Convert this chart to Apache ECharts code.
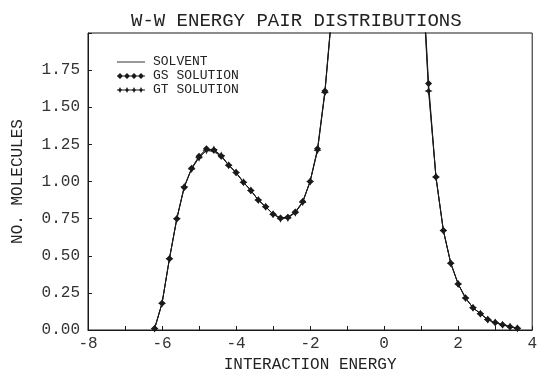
<!DOCTYPE html>
<html>
<head>
<meta charset="utf-8">
<script src="https://cdn.jsdelivr.net/npm/echarts@6/dist/echarts.min.js"></script>
<style>
  html, body { margin: 0; padding: 0; background: #fff; }
  #chart { width: 540px; height: 378px; }
</style>
</head>
<body>
<div id="chart"></div>
<script>
// Interaction energy bins (kcal/mol), one every 0.2
const energy = [
  -6.2, -6.0, -5.8, -5.6, -5.4, -5.2, -5.0, -4.8, -4.6, -4.4,
  -4.2, -4.0, -3.8, -3.6, -3.4, -3.2, -3.0, -2.8, -2.6, -2.4,
  -2.2, -2.0, -1.8, -1.6, -1.4, -1.2, -1.0, -0.8, -0.6, -0.4,
  -0.2, 0.0, 0.2, 0.4, 0.6, 0.8, 1.0, 1.2, 1.4, 1.6,
  1.8, 2.0, 2.2, 2.4, 2.6, 2.8, 3.0, 3.2, 3.4, 3.6
];

// Number of molecules per bin
const solvent = [
  0.01, 0.18, 0.48, 0.75, 0.965, 1.09, 1.165, 1.21, 1.20, 1.17,
  1.11, 1.06, 0.995, 0.94, 0.875, 0.83, 0.78, 0.755, 0.76, 0.79,
  0.86, 1.00, 1.21, 1.60, 2.17, 2.80, 3.30, 3.60, 3.70, 3.60,
  3.50, 3.40, 3.30, 3.15, 3.00, 2.80, 2.55, 1.63, 1.03, 0.67,
  0.45, 0.31, 0.215, 0.15, 0.11, 0.07, 0.05, 0.035, 0.022, 0.011
];
const gsSolution = [
  0.01, 0.18, 0.48, 0.75, 0.96, 1.09, 1.17, 1.22, 1.21, 1.17,
  1.11, 1.06, 0.995, 0.94, 0.875, 0.83, 0.78, 0.755, 0.76, 0.795,
  0.865, 1.00, 1.22, 1.61, 2.18, 2.80, 3.30, 3.60, 3.70, 3.60,
  3.50, 3.40, 3.30, 3.15, 3.00, 2.80, 2.58, 1.66, 1.03, 0.67,
  0.45, 0.31, 0.215, 0.15, 0.11, 0.07, 0.05, 0.035, 0.022, 0.011
];
const gtSolution = [
  0.01, 0.18, 0.48, 0.75, 0.965, 1.085, 1.16, 1.21, 1.215, 1.175,
  1.11, 1.06, 0.995, 0.94, 0.875, 0.83, 0.78, 0.75, 0.755, 0.79,
  0.86, 1.00, 1.21, 1.60, 2.16, 2.80, 3.30, 3.60, 3.70, 3.60,
  3.50, 3.40, 3.30, 3.15, 3.00, 2.80, 2.52, 1.61, 1.03, 0.67,
  0.45, 0.31, 0.215, 0.15, 0.11, 0.07, 0.05, 0.035, 0.022, 0.011
];

const seriesNames = ['SOLVENT', 'GS SOLUTION', 'GT SOLUTION'];
const xTickLabels = ['-8', '-6', '-4', '-2', '0', '2', '4'];
const yTickLabels = ['0.00', '0.25', '0.50', '0.75', '1.00', '1.25', '1.50', '1.75'];

const pairs = (ys) => energy.map((x, i) => [x, ys[i]]);

const FONT = '"Liberation Mono", "DejaVu Sans Mono", monospace';
const INK = '#1a1a1a';
// Chunky four-point star used as the GT marker
const starPath = 'path://M5,0 L6.6,3.4 L10,5 L6.6,6.6 L5,10 L3.4,6.6 L0,5 L3.4,3.4 Z';

// Legend keys: a plain stroke, and a stroke carrying four markers
const centers = [3, 10, 17, 24];
const keyLine = 'M0,2.6 L28,2.6 L28,3.4 L0,3.4 Z';
const diamondKey = 'path://' + keyLine + centers.map(c =>
  ` M${c - 3},3 L${c},0 L${c + 3},3 L${c},6 Z`).join('');
const starKey = 'path://' + keyLine + centers.map(c =>
  ` M${c},0 L${c + 1},2 L${c + 3},3 L${c + 1},4 L${c},6 L${c - 1},4 L${c - 3},3 L${c - 1},2 Z`).join('');
const plainKey = 'path://M0,0 L28,0 L28,1 L0,1 Z';

const chart = echarts.init(document.getElementById('chart'), null, { renderer: 'canvas' });

chart.setOption({
  animation: false,
  backgroundColor: '#fff',
  title: {
    text: 'W-W ENERGY PAIR DISTRIBUTIONS',
    left: 126,
    top: 6,
    textStyle: { fontFamily: FONT, fontSize: 19, fontWeight: 'normal', color: '#222' }
  },
  legend: {
    data: [
      { name: seriesNames[0], icon: plainKey },
      { name: seriesNames[1], icon: diamondKey },
      { name: seriesNames[2], icon: starKey }
    ],
    orient: 'vertical',
    left: 112,
    top: 50,
    itemGap: 0,
    itemWidth: 28,
    itemHeight: 6,
    textStyle: { fontFamily: FONT, fontSize: 13, color: '#222', lineHeight: 14, padding: [0, 0, 0, 3] }
  },
  grid: {
    left: 88,
    right: 1,
    top: 33,
    bottom: 45,
    show: true,
    borderColor: INK,
    borderWidth: 1,
    containLabel: false
  },
  xAxis: {
    type: 'value',
    min: -8,
    max: 4,
    interval: 1,
    name: 'INTERACTION ENERGY',
    nameLocation: 'middle',
    nameGap: 27,
    nameTextStyle: { fontFamily: FONT, fontSize: 16, color: '#222' },
    axisLine: { show: true, onZero: false, lineStyle: { color: INK, width: 1 } },
    axisTick: { show: true, inside: true, length: 4, lineStyle: { color: INK } },
    splitLine: { show: false },
    axisLabel: {
      fontFamily: FONT,
      fontSize: 16,
      color: '#333',
      margin: 6,
      formatter: (v) => {
        const idx = xTickLabels.indexOf(String(v));
        return idx >= 0 ? xTickLabels[idx] : '';
      }
    }
  },
  yAxis: {
    type: 'value',
    min: 0,
    max: 2,
    interval: 0.25,
    name: 'NO. MOLECULES',
    nameLocation: 'middle',
    nameGap: 62,
    nameRotate: 90,
    nameTextStyle: { fontFamily: FONT, fontSize: 16, color: '#222' },
    axisLine: { show: true, onZero: false, lineStyle: { color: INK, width: 1 } },
    axisTick: { show: true, inside: true, length: 4, lineStyle: { color: INK } },
    splitLine: { show: false },
    axisLabel: {
      fontFamily: FONT,
      fontSize: 16,
      color: '#333',
      margin: 8,
      formatter: (v) => {
        const idx = Math.round(v / 0.25);
        return idx < yTickLabels.length ? yTickLabels[idx] : '';
      }
    }
  },
  series: [
    {
      name: seriesNames[0],
      type: 'line',
      data: pairs(solvent),
      showSymbol: false,
      symbol: 'none',
      lineStyle: { color: '#333', width: 1 },
      itemStyle: { color: '#333' },
      clip: true,
      z: 2
    },
    {
      name: seriesNames[1],
      type: 'line',
      data: pairs(gsSolution),
      symbol: 'diamond',
      symbolSize: 7,
      lineStyle: { color: INK, width: 1 },
      itemStyle: { color: INK },
      clip: true,
      z: 3
    },
    {
      name: seriesNames[2],
      type: 'line',
      data: pairs(gtSolution),
      symbol: starPath,
      symbolSize: 8,
      lineStyle: { color: INK, width: 1 },
      itemStyle: { color: INK },
      clip: true,
      z: 4
    }
  ]
});
</script>
</body>
</html>
